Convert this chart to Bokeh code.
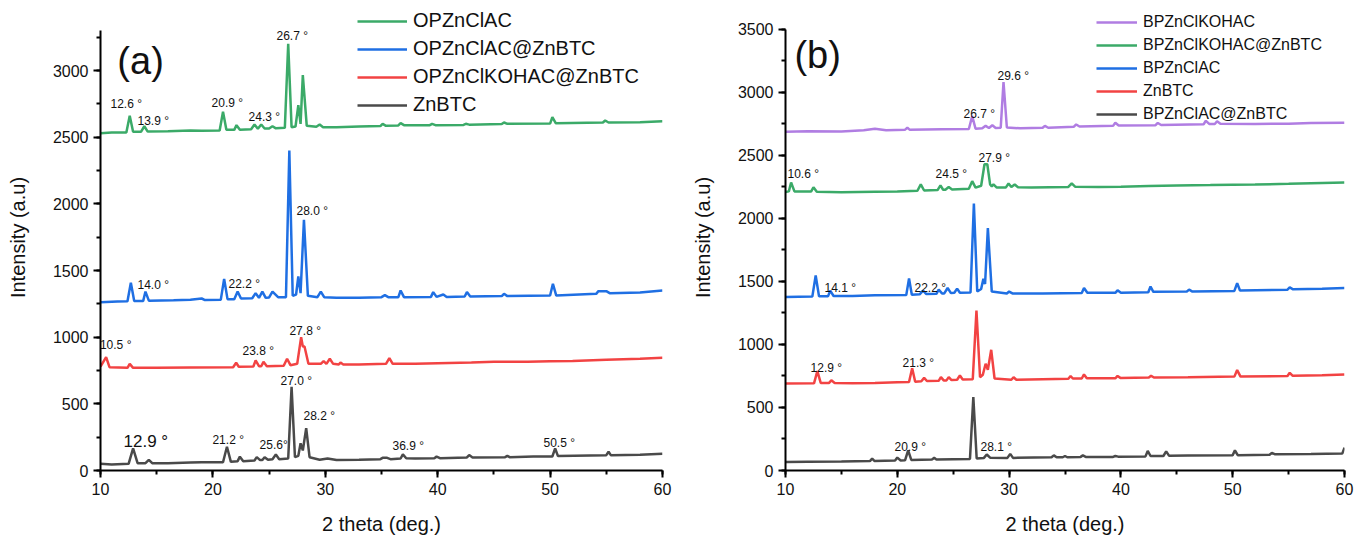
from bokeh.plotting import figure
from bokeh.models import Range1d, Legend, LegendItem, SingleIntervalTicker
from bokeh.layouts import row
from bokeh.embed import file_html
from bokeh.resources import INLINE
from bokeh.core.properties import value

FONT = "Liberation Sans"

# ---------------- Panel (a) data ----------------
a_names = ["OPZnClAC", "OPZnClAC@ZnBTC", "OPZnClKOHAC@ZnBTC", "ZnBTC"]

a_opznclac_x = [10.0, 11.0, 12.3, 12.6, 12.9, 13.6, 13.9, 14.2, 16.0, 18.0, 19.0, 20.6, 20.9, 21.2, 21.9, 22.1, 22.4,
                23.4, 23.7, 24.0, 24.3, 24.6, 25.0, 25.3, 25.6, 26.4, 26.7, 27.0, 27.35, 27.6, 27.8, 28.0, 28.35,
                29.2, 29.5, 29.8, 31.0, 33.0, 34.9, 35.1, 35.4, 36.5, 36.7, 37.0, 39.3, 39.5, 39.8, 42.3, 42.5, 42.8,
                45.7, 45.9, 46.2, 50.0, 50.2, 50.5, 54.7, 54.9, 55.2, 58.0, 60.0]
a_opznclac_y = [2530, 2535, 2535, 2660, 2540, 2540, 2582, 2542, 2545, 2550, 2548, 2550, 2690, 2555, 2555, 2590, 2556,
                2560, 2595, 2563, 2595, 2565, 2565, 2582, 2566, 2570, 3200, 2575, 2580, 2740, 2600, 2965, 2585,
                2578, 2595, 2575, 2575, 2580, 2583, 2600, 2585, 2588, 2605, 2590, 2590, 2600, 2590, 2592, 2600, 2594,
                2598, 2610, 2600, 2602, 2650, 2605, 2610, 2625, 2610, 2612, 2620]

a_opzn_znbtc_x = [10.0, 11.5, 12.4, 12.7, 13.0, 13.8, 14.0, 14.3, 16.5, 18.0, 19.0, 19.3, 20.7, 21.0, 21.3, 21.9, 22.2,
                  22.5, 23.5, 23.8, 24.1, 24.4, 24.7, 25.0, 25.3, 25.8, 26.5, 26.8, 27.1, 27.4, 27.6, 27.8, 28.1,
                  28.45, 29.3, 29.6, 29.9, 31.0, 33.0, 35.0, 35.3, 35.6, 36.5, 36.7, 37.0, 39.4, 39.6, 39.9, 40.5,
                  40.8, 42.4, 42.6, 42.9, 45.7, 45.9, 46.2, 50.0, 50.25, 50.55, 54.1, 54.3, 55.0, 55.3, 58.0, 60.0]
a_opzn_znbtc_y = [1262, 1268, 1270, 1408, 1272, 1272, 1342, 1274, 1276, 1280, 1290, 1278, 1280, 1437, 1285, 1285, 1342,
                  1290, 1292, 1330, 1295, 1342, 1295, 1298, 1342, 1300, 1300, 2400, 1310, 1320, 1455, 1330, 1880,
                  1310, 1300, 1342, 1300, 1295, 1295, 1300, 1315, 1300, 1300, 1350, 1300, 1302, 1338, 1302, 1320,
                  1302, 1305, 1338, 1305, 1308, 1325, 1308, 1312, 1400, 1312, 1325, 1345, 1345, 1330, 1335, 1350]

a_opznkoh_znbtc_x = [10.0, 10.5, 10.8, 12.4, 12.6, 12.9, 15.0, 18.0, 21.8, 22.07, 22.3, 23.6, 23.8, 24.1, 24.3, 24.5,
                     24.8, 26.3, 26.6, 26.9, 27.5, 27.85, 28.0, 28.15, 28.5, 29.6, 29.85, 30.1, 30.4, 30.7, 31.2,
                     31.35, 31.6, 33.0, 35.4, 35.7, 36.0, 38.0, 40.0, 43.0, 45.0, 48.0, 50.0, 52.0, 55.0, 58.0, 60.0]
a_opznkoh_znbtc_y = [780, 850, 775, 770, 800, 770, 770, 772, 775, 808, 778, 780, 826, 782, 782, 815,
                     782, 785, 838, 790, 800, 1000, 930, 930, 800, 800, 821, 800, 838, 800, 795,
                     810, 795, 795, 800, 843, 800, 800, 805, 810, 815, 815, 820, 822, 830, 838, 845]

a_znbtc_x = [10.0, 11.0, 12.5, 12.9, 13.3, 14.0, 14.3, 14.6, 16.0, 18.0, 19.0, 20.9, 21.25, 21.6, 22.2, 22.4, 22.7,
             23.7, 23.9, 24.2, 24.4, 24.6, 24.9, 25.3, 25.6, 25.9, 26.7, 27.0, 27.3, 27.6, 27.8, 28.0, 28.3, 28.6,
             29.5, 30.2, 31.0, 33.0, 34.9, 35.1, 35.5, 35.8, 36.7, 36.9, 37.2, 38.0, 39.7, 39.9, 40.2, 42.6, 42.8,
             43.1, 46.0, 46.2, 46.4, 48.5, 50.2, 50.45, 50.7, 55.0, 55.2, 55.4, 58.0, 60.0]
a_znbtc_y = [50, 45, 50, 166, 55, 55, 80, 55, 55, 60, 62, 62, 178, 65, 70, 104, 70,
             75, 100, 78, 78, 100, 80, 85, 120, 85, 90, 627, 100, 110, 204, 150, 318, 100,
             80, 90, 78, 80, 85, 95, 95, 85, 90, 121, 92, 90, 92, 104, 92, 98, 116,
             98, 100, 110, 100, 105, 105, 166, 108, 115, 141, 115, 118, 125]

a_ann_text = ["12.6  °", "13.9  °", "20.9  °", "24.3  °", "26.7  °", "14.0  °", "22.2  °", "28.0  °",
              "10.5  °", "23.8  °", "27.8  °", "27.0  °", "28.2  °", "21.2  °", "25.6°", "36.9  °", "50.5  °"]
a_ann_x = [10.89, 13.29, 19.88, 23.17, 25.66, 13.29, 21.39, 27.44,
           9.95, 22.63, 26.81, 26.01, 28.06, 19.96, 24.15, 35.98, 49.41]
a_ann_y = [2752, 2625, 2760, 2655, 3262, 1395, 1402, 1950,
           945, 900, 1050, 675, 412, 232, 195, 187, 210]
a_big_text = ["12.9 °"]
a_big_x = [12.05]
a_big_y = [217]

# ---------------- Panel (b) data ----------------
b_names = ["BPZnClKOHAC", "BPZnClKOHAC@ZnBTC", "BPZnClAC", "ZnBTC", "BPZnClAC@ZnBTC"]

b_bpkoh_x = [10.0, 12.0, 15.0, 17.0, 18.0, 19.0, 20.7, 20.9, 21.1, 24.0, 26.4, 26.7, 27.0, 27.6, 27.9, 28.2, 28.5,
             28.8, 29.25, 29.5, 29.8, 31.0, 33.0, 33.2, 33.5, 35.8, 36.0, 36.3, 39.3, 39.5, 39.8, 43.1, 43.3, 43.6,
             47.4, 47.6, 47.9, 48.4, 48.6, 48.9, 52.0, 55.0, 57.0, 60.0]
b_bpkoh_y = [2688, 2692, 2690, 2700, 2712, 2700, 2705, 2720, 2705, 2708, 2710, 2812, 2712, 2715, 2735, 2718, 2740,
             2718, 2720, 3082, 2722, 2715, 2720, 2735, 2720, 2728, 2746, 2730, 2735, 2760, 2738, 2740, 2758, 2742,
             2748, 2775, 2750, 2750, 2772, 2752, 2750, 2752, 2758, 2760]

b_bpkoh_znbtc_x = [10.0, 10.3, 10.5, 10.8, 12.3, 12.5, 12.8, 15.0, 18.0, 20.0, 21.8, 22.1, 22.4, 23.6, 23.86, 24.1,
                   24.3, 24.6, 24.9, 26.4, 26.7, 27.0, 27.5, 27.8, 28.05, 28.3, 28.45, 28.6, 28.9, 29.7, 29.95,
                   30.2, 30.5, 30.8, 32.0, 35.3, 35.6, 35.9, 38.0, 40.0, 42.5, 45.0, 48.0, 50.0, 52.0, 55.0, 58.0,
                   60.0]
b_bpkoh_znbtc_y = [2210, 2215, 2285, 2215, 2215, 2248, 2212, 2208, 2212, 2215, 2220, 2270, 2222, 2225, 2262, 2228,
                   2228, 2250, 2230, 2235, 2296, 2245, 2260, 2430, 2430, 2270, 2255, 2270, 2245, 2245, 2278,
                   2250, 2270, 2248, 2245, 2250, 2278, 2252, 2250, 2252, 2258, 2262, 2265, 2268, 2270, 2275, 2282,
                   2285]

b_bpac_x = [10.0, 12.4, 12.7, 13.0, 13.8, 14.0, 14.3, 16.0, 18.0, 20.8, 21.05, 21.3, 22.0, 22.3, 22.6, 23.5, 23.7,
            24.0, 24.2, 24.5, 24.8, 25.1, 25.35, 25.6, 26.55, 26.85, 27.15, 27.5, 27.7, 27.85, 28.1, 28.45, 29.8,
            30.0, 30.3, 33.0, 36.5, 36.7, 37.0, 39.5, 39.7, 40.0, 42.45, 42.65, 42.9, 45.9, 46.1, 46.4, 50.15,
            50.4, 50.65, 54.9, 55.1, 55.4, 58.0, 60.0]
b_bpac_y = [1377, 1380, 1547, 1382, 1382, 1427, 1385, 1385, 1390, 1392, 1523, 1395, 1398, 1427, 1400, 1402, 1435,
            1405, 1405, 1448, 1408, 1410, 1443, 1410, 1412, 2119, 1420, 1440, 1521, 1480, 1923, 1420, 1405,
            1420, 1405, 1405, 1408, 1448, 1410, 1410, 1430, 1410, 1415, 1460, 1418, 1420, 1435, 1420, 1425,
            1487, 1428, 1435, 1453, 1438, 1442, 1448]

b_znbtc_x = [10.0, 12.55, 12.85, 13.15, 13.9, 14.1, 14.4, 16.0, 18.0, 20.0, 21.05, 21.33, 21.6, 22.15, 22.4, 22.65,
             23.7, 23.9, 24.15, 24.4, 24.6, 24.85, 25.35, 25.6, 25.85, 26.75, 27.08, 27.4, 27.65, 27.9, 28.1, 28.4,
             28.7, 30.2, 30.4, 30.65, 33.0, 35.3, 35.5, 35.7, 36.5, 36.7, 36.95, 39.5, 39.7, 39.95, 42.5, 42.7,
             42.95, 46.0, 50.15, 50.4, 50.7, 54.9, 55.1, 55.35, 58.0, 60.0]
b_znbtc_y = [690, 692, 789, 695, 695, 716, 695, 692, 695, 700, 702, 812, 705, 708, 735, 710,
             712, 741, 715, 715, 741, 718, 720, 754, 722, 725, 1270, 740, 760, 847, 800, 958,
             730, 720, 740, 720, 725, 728, 750, 730, 730, 762, 732, 732, 750, 735, 738, 752,
             738, 740, 745, 797, 745, 750, 775, 752, 755, 762]

b_bpac_znbtc_x = [10.0, 12.0, 15.0, 17.55, 17.75, 17.95, 19.8, 20.0, 20.3, 20.7, 20.97, 21.25, 23.1, 23.3, 23.5,
                  26.5, 26.8, 27.1, 27.75, 28.0, 28.3, 29.85, 30.1, 30.35, 33.8, 34.0, 34.25, 34.8, 35.0, 35.2,
                  36.4, 36.6, 36.85, 39.3, 39.5, 39.75, 42.2, 42.4, 42.65, 43.8, 44.05, 44.3, 46.0, 50.0, 50.2,
                  50.45, 53.3, 53.5, 53.8, 57.0, 59.8, 60.0]
b_bpac_znbtc_y = [67, 70, 72, 75, 94, 76, 80, 102, 80, 82, 159, 84, 88, 100, 88,
                  92, 582, 95, 100, 127, 102, 100, 132, 100, 105, 120, 105, 105, 115, 105,
                  108, 120, 108, 108, 115, 110, 112, 155, 115, 115, 152, 118, 120, 122, 160,
                  122, 125, 140, 128, 130, 134, 182]

b_ann_text = ["29.6  °", "26.7  °", "27.9  °", "24.5  °", "10.6  °", "22.2  °", "14.1  °", "21.3  °", "12.9  °",
              "20.9  °", "28.1 °"]
b_ann_x = [28.96, 25.92, 27.26, 23.42, 10.18, 21.54, 13.49, 20.47, 12.24, 19.75, 27.44]
b_ann_y = [3127, 2833, 2476, 2349, 2349, 1452, 1452, 857, 817, 190, 183]

GREEN = "#3BAA68"
BLUE = "#1F6FE3"
RED = "#F24343"
GRAY = "#4A4A4A"
PURPLE = "#B07DE2"
LW = 2.5


def base_fig(width, left, right, top, ymax, axis_top):
    p = figure(width=width, height=537, x_range=Range1d(10, 60), y_range=Range1d(0, ymax),
               output_backend="svg", toolbar_location=None,
               min_border_left=left, min_border_right=right, min_border_top=top, min_border_bottom=67)
    p.xgrid.visible = False
    p.ygrid.visible = False
    p.outline_line_color = None
    p.xaxis.ticker = SingleIntervalTicker(interval=10, num_minor_ticks=2)
    p.yaxis.ticker = SingleIntervalTicker(interval=500, num_minor_ticks=2)
    p.yaxis.bounds = (0, axis_top)
    for ax in (p.xaxis[0], p.yaxis[0]):
        ax.axis_line_width = 2
        ax.axis_line_color = "black"
        ax.major_tick_line_width = 2
        ax.minor_tick_line_width = 2
        ax.major_tick_line_color = "black"
        ax.minor_tick_line_color = "black"
        ax.major_tick_out = 7
        ax.major_tick_in = 0
        ax.minor_tick_out = 4
        ax.minor_tick_in = 0
        ax.major_label_text_font = FONT
        ax.major_label_text_font_size = "16px"
        ax.major_label_text_color = "#111111"
        ax.major_label_standoff = 5
        ax.axis_label_text_font = FONT
        ax.axis_label_text_font_size = "20px"
        ax.axis_label_text_font_style = "normal"
        ax.axis_label_text_color = "#111111"
    p.xaxis.axis_label = "2 theta (deg.)"
    p.yaxis.axis_label = "Intensity (a.u)"
    p.xaxis.axis_label_standoff = 15
    p.yaxis.axis_label_standoff = 21
    return p


def add_legend(p, renderers, labels, loc, font_size, gh, spacing, gw):
    items = [LegendItem(label=l, renderers=[r]) for l, r in zip(labels, renderers)]
    leg = Legend(items=items, location=loc, label_text_font=FONT, label_text_font_size=font_size,
                 label_text_color="#111111", glyph_width=gw, glyph_height=gh, label_height=gh,
                 spacing=spacing, padding=0, margin=0, label_standoff=6,
                 border_line_color=None, background_fill_alpha=0)
    p.add_layout(leg)


# ---------- Panel (a) ----------
# frame runs from y=4 to y=470 px; axis line drawn only up to 3300
pa = base_fig(680, 100, 18, 4, 3495, 3300)
ra = [
    pa.line(a_opznclac_x, a_opznclac_y, line_color=GREEN, line_width=LW),
    pa.line(a_opzn_znbtc_x, a_opzn_znbtc_y, line_color=BLUE, line_width=LW),
    pa.line(a_opznkoh_znbtc_x, a_opznkoh_znbtc_y, line_color=RED, line_width=LW),
    pa.line(a_znbtc_x, a_znbtc_y, line_color=GRAY, line_width=LW),
]
pa.text(x=a_ann_x, y=a_ann_y, text=a_ann_text, text_font=value(FONT), text_font_size="12px",
        text_align="left", text_baseline="middle", text_color="#111111")
pa.text(x=a_big_x, y=a_big_y, text=a_big_text, text_font=value(FONT), text_font_size="17px",
        text_align="left", text_baseline="middle", text_color="#111111")
pa.text(x=[11.5], y=[3070], text=["(a)"], text_font=value(FONT), text_font_size="38px",
        text_align="left", text_baseline="middle", text_color="#111111")
add_legend(pa, ra, a_names, (257, 354), "20px", 20, 5, 50)

# ---------- Panel (b) ----------
pb = base_fig(675, 105, 11, 4, 3698, 3500)
rb = [
    pb.line(b_bpkoh_x, b_bpkoh_y, line_color=PURPLE, line_width=LW),
    pb.line(b_bpkoh_znbtc_x, b_bpkoh_znbtc_y, line_color=GREEN, line_width=LW),
    pb.line(b_bpac_x, b_bpac_y, line_color=BLUE, line_width=LW),
    pb.line(b_znbtc_x, b_znbtc_y, line_color=RED, line_width=LW),
    pb.line(b_bpac_znbtc_x, b_bpac_znbtc_y, line_color=GRAY, line_width=LW),
]
pb.text(x=b_ann_x, y=b_ann_y, text=b_ann_text, text_font=value(FONT), text_font_size="12px",
        text_align="left", text_baseline="middle", text_color="#111111")
pb.text(x=[10.8], y=[3300], text=["(b)"], text_font=value(FONT), text_font_size="38px",
        text_align="left", text_baseline="middle", text_color="#111111")
add_legend(pb, rb, b_names, (311, 347), "16px", 18, 5, 41)

layout = row(pa, pb)
open("out.html", "w").write(file_html(layout, INLINE))
